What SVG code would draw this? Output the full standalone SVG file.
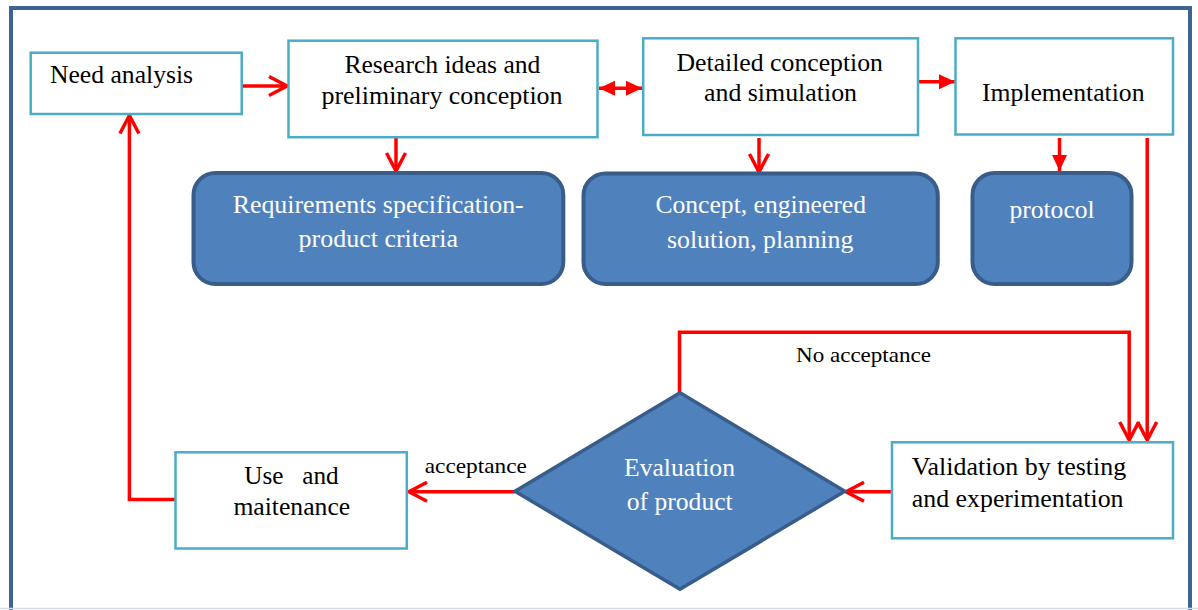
<svg xmlns="http://www.w3.org/2000/svg" width="1198" height="610" viewBox="0 0 1198 610">
<style>
text{font-family:"Liberation Serif","Times New Roman",serif}
.box{fill:#ffffff;stroke:#4bacc6;stroke-width:2.5}
.blue{fill:#4f81bd;stroke:#385d8a;stroke-width:4}
.t{font-size:25px;fill:#000000}
.w{font-size:25px;fill:#ffffff}
.s{font-size:21.5px;fill:#000000}
.c{fill:none;stroke:#ff0000;stroke-width:3.5}
</style>
<defs>
<marker id="open" markerUnits="userSpaceOnUse" viewBox="-22 -12 26 24" refX="0" refY="0" markerWidth="26" markerHeight="24" orient="auto" overflow="visible">
<path d="M -18 -9.5 L 0 0 L -18 9.5" fill="none" stroke="#ff0000" stroke-width="3.5"/>
</marker>
<marker id="fill" markerUnits="userSpaceOnUse" viewBox="-18 -9 20 18" refX="0" refY="0" markerWidth="20" markerHeight="18" orient="auto-start-reverse" overflow="visible">
<path d="M -16 -7.5 L 0 0 L -16 7.5 Z" fill="#ff0000"/>
</marker>
</defs>
<rect width="1198" height="610" fill="#ffffff"/>
<rect id="frame" x="11" y="8" width="1179" height="610" fill="none" stroke="#3e6496" stroke-width="4"/>
<line x1="0" y1="608.5" x2="1198" y2="608.5" stroke="#d5dde8" stroke-width="1.5"/>

<g id="connectors">
<line class="c" x1="242" y1="86" x2="287" y2="86" marker-end="url(#open)"/>
<line class="c" x1="599" y1="88.3" x2="642" y2="88.3" marker-start="url(#fill)" marker-end="url(#fill)"/>
<line class="c" x1="918" y1="81.7" x2="955" y2="81.7" marker-end="url(#fill)"/>
<line class="c" x1="396" y1="138" x2="396" y2="171" marker-end="url(#open)"/>
<line class="c" x1="759" y1="138" x2="759" y2="172" marker-end="url(#open)"/>
<line class="c" x1="1059.5" y1="138" x2="1059.5" y2="171" marker-end="url(#fill)"/>
<line class="c" x1="1147.2" y1="138" x2="1147.2" y2="440" marker-end="url(#open)"/>
<polyline class="c" points="679.5,393 679.5,332.3 1129.2,332.3 1129.2,440" marker-end="url(#open)"/>
<line class="c" x1="892" y1="491.7" x2="846" y2="491.7" marker-end="url(#open)"/>
<line class="c" x1="515" y1="491.7" x2="409" y2="491.7" marker-end="url(#open)"/>
<polyline class="c" points="176,499.5 129.4,499.5 129.4,115.5" marker-end="url(#open)"/>
<text class="s" x="796" y="361.7" textLength="135" lengthAdjust="spacingAndGlyphs">No acceptance</text>
<text class="s" x="424.8" y="473.3" textLength="102" lengthAdjust="spacingAndGlyphs">acceptance</text>
</g>

<g id="need">
<rect class="box" x="30.7" y="52.7" width="211" height="61.3"/>
<text class="t" x="50" y="83" textLength="143" lengthAdjust="spacingAndGlyphs">Need analysis</text>
</g>
<g id="research">
<rect class="box" x="288.5" y="40.7" width="309" height="96.5"/>
<text class="t" x="344.4" y="73" textLength="196" lengthAdjust="spacingAndGlyphs">Research ideas and</text>
<text class="t" x="321.5" y="104" textLength="241" lengthAdjust="spacingAndGlyphs">preliminary conception</text>
</g>
<g id="detailed">
<rect class="box" x="643.2" y="38.3" width="274.8" height="96.7"/>
<text class="t" x="676.5" y="71" textLength="206.5" lengthAdjust="spacingAndGlyphs">Detailed conception</text>
<text class="t" x="704" y="101" textLength="153" lengthAdjust="spacingAndGlyphs">and simulation</text>
</g>
<g id="implementation">
<rect class="box" x="955.5" y="38.3" width="217.5" height="96.2"/>
<text class="t" x="982" y="101" textLength="162.5" lengthAdjust="spacingAndGlyphs">Implementation</text>
</g>
<g id="requirements">
<rect class="blue" x="193.5" y="173" width="369.8" height="111" rx="22"/>
<text class="w" x="232.7" y="212.7" textLength="291" lengthAdjust="spacingAndGlyphs">Requirements specification-</text>
<text class="w" x="298.5" y="246.5" textLength="159.5" lengthAdjust="spacingAndGlyphs">product criteria</text>
</g>
<g id="concept">
<rect class="blue" x="583.5" y="173.5" width="354.3" height="110.5" rx="22"/>
<text class="w" x="655.4" y="213.3" textLength="210.6" lengthAdjust="spacingAndGlyphs">Concept, engineered</text>
<text class="w" x="667" y="248" textLength="186.3" lengthAdjust="spacingAndGlyphs">solution, planning</text>
</g>
<g id="protocol">
<rect class="blue" x="972.5" y="173" width="159" height="111" rx="22"/>
<text class="w" x="1009.4" y="218.3" textLength="85.3" lengthAdjust="spacingAndGlyphs">protocol</text>
</g>
<g id="validation">
<rect class="box" x="892" y="442.3" width="281" height="96"/>
<text class="t" x="911.8" y="475" textLength="214.3" lengthAdjust="spacingAndGlyphs">Validation by testing</text>
<text class="t" x="911.8" y="507.3" textLength="211.7" lengthAdjust="spacingAndGlyphs">and experimentation</text>
</g>
<g id="evaluation">
<polygon points="680,392.7 844.8,491.3 680,589.3 515,491.3" fill="#4f81bd" stroke="#385d8a" stroke-width="3.5"/>
<text class="w" x="624" y="476" textLength="111" lengthAdjust="spacingAndGlyphs">Evaluation</text>
<text class="w" x="626.7" y="509.5" textLength="106" lengthAdjust="spacingAndGlyphs">of product</text>
</g>
<g id="use">
<rect class="box" x="175.5" y="452.3" width="231.3" height="96.2"/>
<text class="t" x="244.2" y="484.3" textLength="94.5" lengthAdjust="spacingAndGlyphs" xml:space="preserve">Use   and</text>
<text class="t" x="233.4" y="515" textLength="116.8" lengthAdjust="spacingAndGlyphs">maitenance</text>
</g>
</svg>
